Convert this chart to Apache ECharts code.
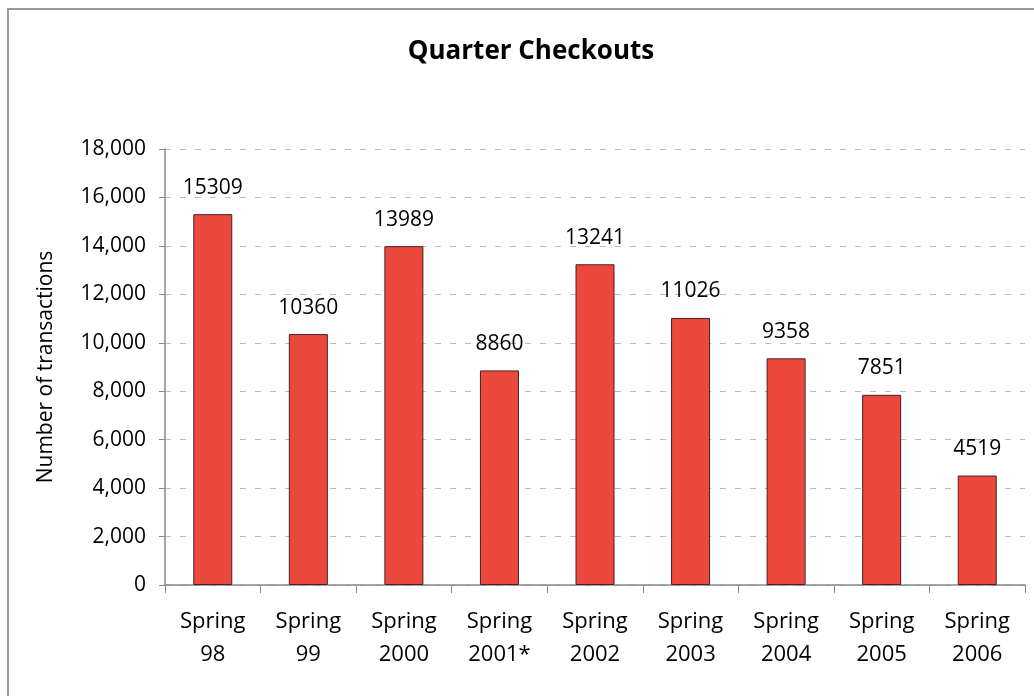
<!DOCTYPE html>
<html>
<head>
<meta charset="utf-8">
<script src="https://cdn.jsdelivr.net/npm/echarts@6/dist/echarts.min.js"></script>
<style>
html,body{margin:0;padding:0;background:#fff;}
#frame{position:absolute;left:7px;top:8px;width:1040px;height:700px;border-left:2px solid #9a9a9a;border-top:2px solid #9a9a9a;}
#chart{position:absolute;left:0;top:0;width:1034px;height:696px;}
</style>
</head>
<body>
<div id="frame"></div>
<div id="chart"></div>
<script>
const categories = ["Spring\n98","Spring\n99","Spring\n2000","Spring\n2001*","Spring\n2002","Spring\n2003","Spring\n2004","Spring\n2005","Spring\n2006"];
const checkouts = [15309,10360,13989,8860,13241,11026,9358,7851,4519];
const yTicks = {min:0, max:18000, interval:2000};
const titleText = "Quarter Checkouts";
const yAxisName = "Number of transactions";

const chart = echarts.init(document.getElementById('chart'), null, {renderer:'canvas'});
const font = "'Open Sans', 'Noto Sans', sans-serif";
chart.setOption({
  animation:false,
  title:{text:titleText,left:526,textAlign:'center',top:34,textStyle:{fontFamily:font,fontWeight:'bold',fontSize:26,color:'#000'}},
  grid:{left:165,right:9,top:149,bottom:111},
  xAxis:{type:'category',data:categories,boundaryGap:true,
    axisLine:{lineStyle:{color:'#888',width:1.5}},
    axisTick:{show:true,length:8,lineStyle:{color:'#888'},alignWithLabel:false},
    axisLabel:{fontFamily:font,fontSize:22,color:'#000',lineHeight:33,margin:20,interval:0}},
  yAxis:{type:'value',min:yTicks.min,max:yTicks.max,interval:yTicks.interval,
    name:yAxisName,nameLocation:'middle',nameGap:108,
    nameTextStyle:{fontFamily:font,fontSize:21,color:'#000'},
    axisLine:{show:true,lineStyle:{color:'#888',width:1.5}},
    axisTick:{show:true,length:6,lineStyle:{color:'#888'}},
    axisLabel:{fontFamily:font,fontSize:21,color:'#000',margin:19,
      formatter:v=>v.toLocaleString('en-US')},
    splitLine:{show:true,lineStyle:{color:'#bbb',type:[6,9],width:1}}},
  series:[{type:'bar',data:checkouts,barWidth:39,
    itemStyle:{color:'#EB493E',borderColor:'#4a2020',borderWidth:1},
    label:{show:true,position:'top',distance:16,fontFamily:font,fontSize:21,color:'#000'}}]
});
</script>
</body>
</html>
